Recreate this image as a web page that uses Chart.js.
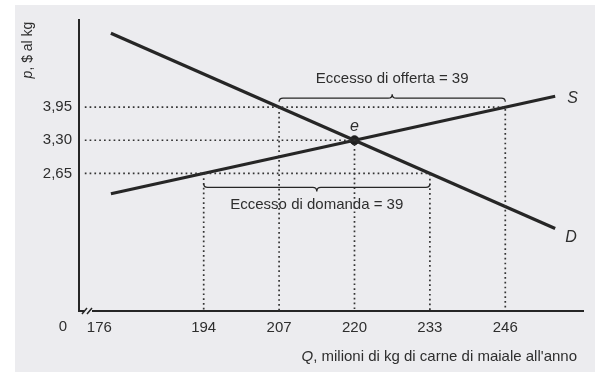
<!DOCTYPE html>
<html>
<head>
<meta charset="utf-8">
<script src="https://cdn.jsdelivr.net/npm/chart.js@4/dist/chart.umd.min.js"></script>
<style>
	html, body { margin: 0; padding: 0; background: #fff; }
	canvas { display: block; }
</style>
</head>
<body>
<canvas id="graphique-mercato" width="610" height="378"></canvas>
<script>
// Valori (Q in milioni di kg, p in $ al kg)
const qTicks = [176, 194, 207, 220, 233, 246];
const pTicks = [2.65, 3.30, 3.95];

// Offerta S e domanda D (estremi dei segmenti)
const supplyQ = [178, 254.6];
const supplyP = [2.25, 4.165];
const demandQ = [178, 254.6];
const demandP = [5.40, 1.57];

// Equilibrio e
const qEq = 220;
const pEq = 3.30;

// Prezzo alto: domanda 207, offerta 246 ; prezzo basso: offerta 194, domanda 233
const pHigh = 3.95;
const qHigh = [207, 246];
const pLow = 2.65;
const qLow = [194, 233];

const qMin = 172.5;
const qMax = 259.4;
const pMin = -0.05;
const pMax = 5.66;

const inkColor = '#262626';
const textColor = '#2e2e2e';
const fontFamily = "'Liberation Sans', Arial, Helvetica, sans-serif";

const pts = (qs, ps) => qs.map((q, i) => ({ x: q, y: ps[i] }));

// linee tratteggiate di riferimento
const guideStart = qMin + 1;
const guides = [
	[{ x: guideStart, y: pHigh }, { x: qHigh[1], y: pHigh }, { x: qHigh[1], y: pMin }],
	[{ x: qHigh[0], y: pHigh }, { x: qHigh[0], y: pMin }],
	[{ x: guideStart, y: pEq }, { x: qEq, y: pEq }, { x: qEq, y: pMin }],
	[{ x: guideStart, y: pLow }, { x: qLow[1], y: pLow }, { x: qLow[1], y: pMin }],
	[{ x: qLow[0], y: pLow }, { x: qLow[0], y: pMin }],
];

const guideDatasets = guides.map((g) => ({
	data: g,
	showLine: true,
	borderColor: '#333',
	borderWidth: 1.7,
	borderDash: [1.7, 3.1],
	pointRadius: 0,
	fill: false,
}));

// Sfondo della pagina scansionata
const sfondoPlugin = {
	id: 'sfondo',
	beforeDraw(chart) {
		const ctx = chart.ctx;
		ctx.save();
		ctx.fillStyle = '#ffffff';
		ctx.fillRect(0, 0, chart.width, chart.height);
		ctx.fillStyle = '#ececef';
		ctx.fillRect(15, 5, 580, 367);
		ctx.restore();
	},
};

function drawBrace(ctx, x1, x2, y, dir, h) {
	// dir = -1 : punta verso l'alto, +1 : punta verso il basso
	const mid = (x1 + x2) / 2;
	const r = 4;
	ctx.beginPath();
	ctx.moveTo(x1, y - dir * h * 0.9);
	ctx.quadraticCurveTo(x1, y, x1 + r, y);
	ctx.lineTo(mid - r, y);
	ctx.quadraticCurveTo(mid, y, mid, y + dir * h);
	ctx.quadraticCurveTo(mid, y, mid + r, y);
	ctx.lineTo(x2 - r, y);
	ctx.quadraticCurveTo(x2, y, x2, y - dir * h * 0.9);
	ctx.stroke();
}

// Etichette, graffe e titoli degli assi
const annotazioniPlugin = {
	id: 'annotazioni',
	afterDraw(chart) {
		const ctx = chart.ctx;
		const xs = chart.scales.x;
		const ys = chart.scales.y;
		const area = chart.chartArea;
		ctx.save();
		ctx.strokeStyle = inkColor;
		ctx.fillStyle = textColor;
		ctx.lineWidth = 1.3;

		// graffa eccesso di offerta
		const yHigh = ys.getPixelForValue(pHigh);
		drawBrace(ctx, xs.getPixelForValue(qHigh[0]), xs.getPixelForValue(qHigh[1]), yHigh - 9, -1, 4);
		ctx.font = '15px ' + fontFamily;
		ctx.textAlign = 'center';
		ctx.textBaseline = 'middle';
		ctx.fillText('Eccesso di offerta = 39',
			(xs.getPixelForValue(qHigh[0]) + xs.getPixelForValue(qHigh[1])) / 2, yHigh - 28);

		// graffa eccesso di domanda
		const yLow = ys.getPixelForValue(pLow);
		drawBrace(ctx, xs.getPixelForValue(qLow[0]), xs.getPixelForValue(qLow[1]), yLow + 14, 1, 4);
		ctx.fillText('Eccesso di domanda = 39',
			(xs.getPixelForValue(qLow[0]) + xs.getPixelForValue(qLow[1])) / 2, yLow + 31);

		// etichette S, D, e
		ctx.font = 'italic 16px ' + fontFamily;
		ctx.textAlign = 'left';
		ctx.fillText('S', xs.getPixelForValue(supplyQ[1]) + 12, ys.getPixelForValue(supplyP[1]) + 2);
		ctx.fillText('D', xs.getPixelForValue(demandQ[1]) + 10, ys.getPixelForValue(demandP[1]) + 9);
		ctx.textAlign = 'center';
		ctx.fillText('e', xs.getPixelForValue(qEq), ys.getPixelForValue(pEq) - 14);

		// titolo asse y
		ctx.save();
		ctx.translate(28, area.top + 30);
		ctx.rotate(-Math.PI / 2);
		ctx.textAlign = 'left';
		ctx.font = 'italic 14px ' + fontFamily;
		const pw = ctx.measureText('p').width;
		ctx.font = '14px ' + fontFamily;
		const restW = ctx.measureText(', $ al kg').width;
		const startX = -(pw + restW) / 2;
		ctx.font = 'italic 14px ' + fontFamily;
		ctx.fillText('p', startX, 0);
		ctx.font = '14px ' + fontFamily;
		ctx.fillText(', $ al kg', startX + pw, 0);
		ctx.restore();

		// titolo asse x
		ctx.textAlign = 'left';
		ctx.textBaseline = 'middle';
		const titolo = ", milioni di kg di carne di maiale all'anno";
		ctx.font = '15px ' + fontFamily;
		const tw = ctx.measureText(titolo).width;
		ctx.font = 'italic 15px ' + fontFamily;
		const qw = ctx.measureText('Q').width;
		const tx = 577 - tw - qw;
		ctx.fillText('Q', tx, 357);
		ctx.font = '15px ' + fontFamily;
		ctx.fillText(titolo, tx + qw, 357);

		// zero all'origine
		ctx.textAlign = 'center';
		ctx.font = '15px ' + fontFamily;
		ctx.fillText('0', area.left - 16, area.bottom + 16);

		// interruzione dell'asse
		ctx.fillStyle = '#ececef';
		ctx.fillRect(area.left + 5, area.bottom - 3, 8, 6);
		ctx.lineWidth = 1.5;
		ctx.beginPath();
		ctx.moveTo(area.left + 3, area.bottom + 3);
		ctx.lineTo(area.left + 8, area.bottom - 3);
		ctx.moveTo(area.left + 8, area.bottom + 3);
		ctx.lineTo(area.left + 13, area.bottom - 3);
		ctx.stroke();
		ctx.restore();
	},
};

Chart.defaults.font.family = fontFamily;
Chart.defaults.color = textColor;

const canvas = document.querySelector('#graphique-mercato');

new Chart(canvas, {
	type: 'scatter',
	data: {
		datasets: [
			...guideDatasets,
			{
				label: 'S',
				data: pts(supplyQ, supplyP),
				showLine: true,
				borderColor: inkColor,
				borderWidth: 3.2,
				pointRadius: 0,
			},
			{
				label: 'D',
				data: pts(demandQ, demandP),
				showLine: true,
				borderColor: inkColor,
				borderWidth: 3.2,
				pointRadius: 0,
			},
			{
				label: 'e',
				data: [{ x: qEq, y: pEq }],
				pointRadius: 4.5,
				pointBackgroundColor: '#1e1e1e',
				pointBorderColor: '#1e1e1e',
			},
		],
	},
	options: {
		responsive: false,
		devicePixelRatio: 1,
		animation: false,
		layout: { padding: { top: 20, right: 27, left: 0, bottom: 0 } },
		plugins: {
			legend: { display: false },
			tooltip: { enabled: false },
		},
		scales: {
			x: {
				type: 'linear',
				min: qMin,
				max: qMax,
				afterFit(scale) { scale.height = 67; },
				afterBuildTicks(scale) { scale.ticks = qTicks.map((v) => ({ value: v })); },
				grid: { display: false, drawTicks: false },
				border: { display: true, color: inkColor, width: 2 },
				ticks: { padding: 8, font: { size: 15 }, color: textColor },
			},
			y: {
				type: 'linear',
				min: pMin,
				max: pMax,
				afterFit(scale) { scale.width = 79; },
				afterBuildTicks(scale) { scale.ticks = pTicks.map((v) => ({ value: v })); },
				grid: { display: false, drawTicks: false },
				border: { display: true, color: inkColor, width: 2 },
				ticks: {
					padding: 7,
					font: { size: 15 },
					color: textColor,
					callback: (v) => v.toFixed(2).replace('.', ','),
				},
			},
		},
	},
	plugins: [sfondoPlugin, annotazioniPlugin],
});
</script>
</body>
</html>
